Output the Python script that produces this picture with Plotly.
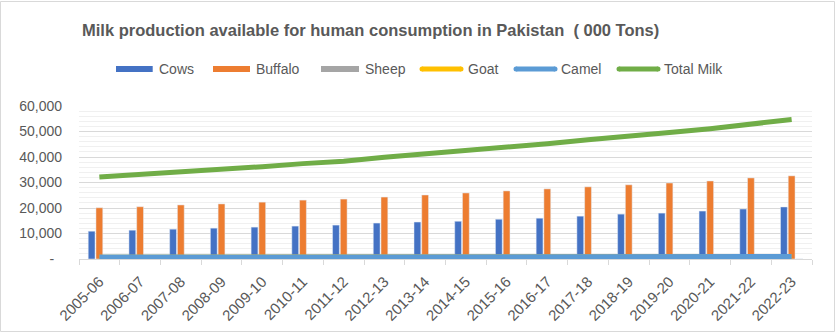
import plotly.graph_objects as go

years = ["2005-06", "2006-07", "2007-08", "2008-09", "2009-10", "2010-11", "2011-12",
         "2012-13", "2013-14", "2014-15", "2015-16", "2016-17", "2017-18", "2018-19",
         "2019-20", "2020-21", "2021-22", "2022-23"]
cows = [10900, 11300, 11700, 12100, 12500, 12900, 13300, 14100, 14500, 14800,
        15600, 16000, 16800, 17600, 18000, 18800, 19600, 20400]
buffalo = [20100, 20500, 21200, 21600, 22300, 23100, 23500, 24300, 25100, 25900,
           26700, 27500, 28300, 29100, 29800, 30600, 31800, 32600]
sheep = [30, 31, 32, 33, 33, 34, 35, 35, 36, 36, 37, 38, 38, 39, 39, 40, 40, 41]
goat = [700, 720, 740, 760, 780, 800, 810, 830, 850, 860, 870, 890, 900, 920, 930, 940, 950, 960]
camel = [780, 790, 800, 810, 820, 830, 840, 850, 860, 870, 880, 890, 900, 910, 915, 920, 930, 940]
total = [32200, 33100, 34200, 35200, 36200, 37400, 38300, 39900, 41200, 42400,
         44000, 45200, 46800, 48400, 49600, 51100, 53000, 54700]
y_ticks = [0, 10000, 20000, 30000, 40000, 50000, 60000]
y_tick_text = ["-\u00a0\u00a0", "10,000", "20,000", "30,000", "40,000", "50,000", "60,000"]

title = "Milk production available for human consumption in Pakistan  ( 000 Tons)"

C_COWS, C_BUF, C_SHEEP = "#4472C4", "#ED7D31", "#A5A5A5"
C_GOAT, C_CAMEL, C_TOTAL = "#FFC000", "#5B9BD5", "#70AD47"
TXT = "#595959"
FONT = "Liberation Sans"

W, H = 837, 333
L, R, T, B = 79, 25, 106, 74
PW, PH = W - L - R, H - T - B


def px(x):
    return (x - L) / PW


def py(y):
    return (H - B - y) / PH


fig = go.Figure()
fig.add_bar(x=years, y=cows, name="Cows", marker_color=C_COWS)
fig.add_bar(x=years, y=buffalo, name="Buffalo", marker_color=C_BUF)
fig.add_bar(x=years, y=sheep, name="Sheep", marker_color=C_SHEEP)
fig.add_scatter(x=years, y=goat, name="Goat", mode="lines", line=dict(color=C_GOAT, width=5))
fig.add_scatter(x=years, y=camel, name="Camel", mode="lines", line=dict(color=C_CAMEL, width=5))
fig.add_scatter(x=years, y=total, name="Total Milk", mode="lines", line=dict(color=C_TOTAL, width=5))

shapes = [dict(type="rect", xref="paper", yref="paper", x0=px(0.5), x1=px(834.5), y0=py(1.5), y1=py(331.5),
               line=dict(color="#d9d9d9", width=1), fillcolor="rgba(0,0,0,0)", layer="below")]
annotations = [dict(text="<b>" + title + "</b>", xref="paper", yref="paper", x=px(80), y=py(29.5),
                    xanchor="left", yanchor="middle", showarrow=False,
                    font=dict(family=FONT, size=16.5, color=TXT))]

legend_items = [
    ("Cows", C_COWS, "bar", 116, 152.7, 157),
    ("Buffalo", C_BUF, "bar", 213, 250, 254),
    ("Sheep", C_SHEEP, "bar", 321, 359, 363),
    ("Goat", C_GOAT, "line", 422, 461, 466),
    ("Camel", C_CAMEL, "line", 516, 555, 559),
    ("Total Milk", C_TOTAL, "line", 619, 658, 662),
]
LY = 69
for name, col, kind, x0, x1, tx in legend_items:
    if kind == "bar":
        shapes.append(dict(type="rect", xref="paper", yref="paper", x0=px(x0), x1=px(x1),
                           y0=py(LY - 3), y1=py(LY + 3), fillcolor=col, line=dict(width=0)))
    else:
        shapes.append(dict(type="line", xref="paper", yref="paper", x0=px(x0), x1=px(x1),
                           y0=py(LY), y1=py(LY), line=dict(color=col, width=5)))
        for cx in (x0, x1):
            shapes.append(dict(type="circle", xref="paper", yref="paper", x0=px(cx - 2.5), x1=px(cx + 2.5),
                               y0=py(LY - 2.5), y1=py(LY + 2.5), fillcolor=col, line=dict(width=0)))
    annotations.append(dict(text=name, xref="paper", yref="paper", x=px(tx), y=py(LY),
                            xanchor="left", yanchor="middle", showarrow=False,
                            font=dict(family=FONT, size=14, color=TXT)))

fig.update_layout(
    width=W, height=H,
    margin=dict(l=L, r=R, t=T, b=B, pad=0),
    paper_bgcolor="white", plot_bgcolor="white",
    barmode="group", bargap=0.43, bargroupgap=0.12,
    showlegend=False,
    shapes=shapes, annotations=annotations,
    font=dict(family=FONT, size=14, color=TXT),
    xaxis=dict(type="category", showline=True, linecolor="#d9d9d9", linewidth=1,
               ticks="outside", ticklen=5, tickcolor="#d9d9d9", tickson="boundaries",
               tickangle=-45, showgrid=False, ticklabelstandoff=7, automargin=False,
               tickfont=dict(family=FONT, size=15, color=TXT)),
    yaxis=dict(range=[0, 60000], tickvals=y_ticks, ticktext=y_tick_text, showline=False,
               zeroline=False, showgrid=True, gridcolor="#d9d9d9", gridwidth=1,
               ticks="", ticklabelstandoff=16, automargin=False,
               minor=dict(dtick=2000, showgrid=True, gridcolor="#f0f0f0", gridwidth=1),
               tickfont=dict(family=FONT, size=14, color=TXT)),
)

fig.write_html("out.html")
